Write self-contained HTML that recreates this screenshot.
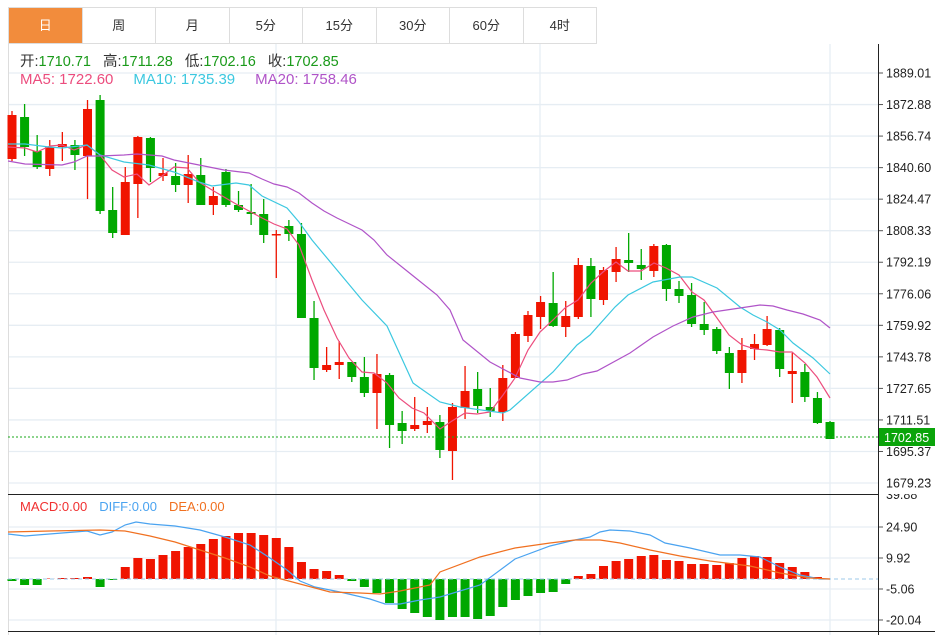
<!DOCTYPE html>
<html><head><meta charset="utf-8"><style>
body{margin:0;background:#fff;width:935px;height:635px;overflow:hidden;font-family:"Liberation Sans","Noto Sans CJK SC",sans-serif}
.tabs{position:absolute;left:8px;top:7px;height:37px;display:flex;border:1px solid #ddd;border-right:none;box-sizing:border-box}
.tabs div{width:73.5px;height:35px;line-height:35px;text-align:center;font-size:13px;color:#333;border-right:1px solid #ddd;box-sizing:border-box}
.tabs div.on{background:#f28c3c;color:#fff}
svg{position:absolute;left:0;top:0}
</style></head><body>
<div class="tabs"><div class="on">日</div><div>周</div><div>月</div><div>5分</div><div>15分</div><div>30分</div><div>60分</div><div>4时</div></div>
<svg id="s" width="935" height="635" xmlns="http://www.w3.org/2000/svg" font-family="Liberation Sans, Noto Sans CJK SC, sans-serif"></svg>
<script>
var s=document.getElementById('s'),h='';
var labs=['1889.01','1872.88','1856.74','1840.60','1824.47','1808.33','1792.19','1776.06','1759.92','1743.78','1727.65','1711.51','1695.37','1679.23'];
for(var k=0;k<14;k++){var y=73+k*31.54;h+='<line x1="8" y1="'+y+'" x2="878" y2="'+y+'" stroke="#e6edf3" stroke-width="1.3"/>';
h+='<line x1="878" y1="'+y+'" x2="883" y2="'+y+'" stroke="#555"/><text x="886" y="'+(y+4.5)+'" font-size="12.5" fill="#222">'+labs[k]+'</text>';}
h+='<text x="886" y="499" font-size="12.5" fill="#222">39.88</text><rect x="879" y="480" width="56" height="14" fill="#fff"/>';
h+='<text x="886" y="487.5" font-size="12.5" fill="#222">1679.23</text>';
[527,558,589,620].forEach(function(y,i){h+='<line x1="8" y1="'+y+'" x2="878" y2="'+y+'" stroke="#e6edf3" stroke-width="1.3"/><line x1="878" y1="'+y+'" x2="883" y2="'+y+'" stroke="#555"/><text x="886" y="'+(y+4.5)+'" font-size="12.5" fill="#222">'+['24.90','9.92','-5.06','-20.04'][i]+'</text>';});
[276,540,830].forEach(function(x){h+='<line x1="'+x+'" y1="44" x2="'+x+'" y2="635" stroke="#e6edf3" stroke-width="1.3"/>';});
h+='<line x1="8.5" y1="44" x2="8.5" y2="635" stroke="#ddd"/>';
var C=[[1,115,159,111,161],[0,117,147,104,156],[0,151,167,135,169],[1,147,169,140,176],[1,144,147,132,161],[0,145,155,140,170],[1,109,156,100,199],[0,100,211,95,214],[0,210,233,187,238],[1,182,235,167,235],[1,137,184,136,218],[0,138,168,137,182],[1,173,176,158,181],[0,176,185,163,192],[1,174,185,155,203],[0,175,205,158,205],[1,196,205,187,215],[0,172,205,169,207],[0,205,210,191,212],[0,212,214,184,225],[0,214,235,199,243],[1,234,235,230,278],[0,226,234,220,241],[0,234,318,223,318],[0,318,368,301,380],[1,365,370,347,372],[1,362,365,341,379],[0,362,377,362,382],[0,377,393,357,397],[1,374,393,354,429],[0,375,425,373,448],[0,423,431,411,444],[1,425,429,397,431],[1,421,425,407,433],[0,422,450,415,458],[1,407,451,403,480],[1,391,408,366,419],[0,389,406,372,413],[0,407,411,388,417],[1,378,412,365,421],[1,334,378,332,378],[1,315,336,311,342],[1,302,317,296,329],[0,303,326,272,327],[1,316,327,301,337],[1,265,317,258,319],[0,266,299,258,317],[1,270,300,267,305],[1,259,272,247,282],[0,260,263,233,272],[0,265,269,249,280],[1,246,271,244,277],[0,245,289,244,301],[0,289,296,281,303],[0,295,324,283,327],[0,324,330,302,335],[0,329,351,327,354],[0,353,373,347,389],[1,350,373,338,383],[1,344,349,334,360],[1,329,345,316,346],[0,330,369,328,377],[1,371,374,353,403],[0,372,397,364,402],[0,398,423,392,424],[0,422,439,421,439]];
function X(i){return 12+i*12.585;}
C.forEach(function(c,i){var x=X(i),col=c[0]?'#f01400':'#00a800';
h+='<line x1="'+x+'" y1="'+c[3]+'" x2="'+x+'" y2="'+c[4]+'" stroke="'+col+'" stroke-width="1.3"/>';
h+='<rect x="'+(x-4.5)+'" y="'+c[1]+'" width="9" height="'+Math.max(1.5,c[2]-c[1])+'" fill="'+col+'"/>';});
function pl(p,col){return '<polyline fill="none" stroke="'+col+'" stroke-width="1.2" points="'+p+'"/>';}
h+=pl('8,147 25,148 37,152 50,146 62,145 74,150 87,145 100,155 112,170 124,177 137,174 149,185 162,176 174,167 187,168 199,182 212,190 224,197 236,204 249,211 262,218 274,224 287,229 299,245 312,280 324,310 337,338 349,358 362,372 374,373 387,383 399,398 412,408 424,413 440,429 452,421 465,413 477,414 490,412 503,395 515,378 528,350 540,332 553,320 565,308 578,300 591,283 603,272 616,262 628,271 641,271 654,263 666,268 679,275 692,292 704,300 717,318 729,335 742,345 755,349 767,350 780,352 792,352 805,363 817,377 830,398','#ec4d7e');
h+=pl('8,144 25,144 49,147 62,148 87,145 100,155 124,162 149,165 174,172 199,182 212,186 236,183 249,185 262,196 287,208 299,222 312,240 337,270 362,300 387,326 413,383 420,388 440,402 460,407 503,413 510,410 553,372 577,345 590,335 615,307 628,295 653,282 680,277 692,277 717,288 740,307 753,315 767,322 780,330 793,343 813,358 830,374','#3cc8e0');
h+=pl('8,161 25,164 62,165 74,162 87,156 100,156 124,155 137,154 162,156 174,160 199,165 224,170 249,173 262,179 274,184 287,187 299,193 312,203 324,211 337,218 362,230 374,240 387,255 412,275 437,295 450,310 463,340 490,362 520,378 540,382 553,382 567,380 583,374 597,371 630,353 653,337 673,326 693,317 713,312 740,308 760,305 773,306 787,310 803,314 820,320 830,328','#b054c8');
h+='<line x1="8" y1="437" x2="878" y2="437" stroke="#1aa81a" stroke-dasharray="2,2"/>';
h+='<rect x="879" y="428" width="56" height="18" fill="#0aa40a"/><text x="884" y="442" font-size="12.5" fill="#fff">1702.85</text>';
var M=[581,585,585,578.5,578,578,577,587,580,567,558,559,555,551,547,544,539,536,533,533,535,538,547,562,569,571,575,581,587,593,603,609,613,617,620,617,617,619,616,607,600,596,593,592,584,576,574,566,561,559,556,555,560,561,564,564,565,563,558,556,557,563,567,572,577,579];
M.forEach(function(v,i){var x=X(i);var t=Math.min(v,579),b=Math.max(v,579);if(b-t<0.5)return;
h+='<rect x="'+(x-4.5)+'" y="'+t+'" width="9" height="'+(b-t)+'" fill="'+(v<579?'#f01400':'#00a800')+'"/>';});
h+='<line x1="8" y1="579" x2="878" y2="579" stroke="#9cc8e8" stroke-dasharray="4,3"/>';
h+=pl('8,534 25,536 37,535 87,531 100,535 112,532 125,525 136,522 150,524 175,526 200,530 225,537 250,545 270,558 287,570 300,581 315,587 340,592 370,599 385,604 400,604 420,600 440,597 480,585 515,559 550,546 575,540 590,537 600,532 610,530 630,531 650,535 665,543 690,548 720,555 740,555 760,557 780,567 800,575 820,579 830,579','#4aa3f0');
h+=pl('8,532 50,531 100,530 125,531 150,536 175,542 200,550 225,558 250,567 270,576 300,584 330,592 360,593 380,594 400,591 430,585 440,572 480,557 515,548 550,543 575,540 600,540 620,543 650,550 680,556 710,561 750,566 780,573 810,578 830,579','#f07020');
h+='<line x1="878.5" y1="44" x2="878.5" y2="635" stroke="#222"/>';
h+='<line x1="8" y1="494.5" x2="878" y2="494.5" stroke="#222"/><line x1="8" y1="631.5" x2="935" y2="631.5" stroke="#222"/>';
h+='<text x="20" y="66" font-size="14.5"><tspan fill="#333">开:</tspan><tspan fill="#1a9a1a">1710.71</tspan><tspan fill="#333" dx="12">高:</tspan><tspan fill="#1a9a1a">1711.28</tspan><tspan fill="#333" dx="12">低:</tspan><tspan fill="#1a9a1a">1702.16</tspan><tspan fill="#333" dx="12">收:</tspan><tspan fill="#1a9a1a">1702.85</tspan></text>';
h+='<text x="20" y="84" font-size="15"><tspan fill="#ec4d7e">MA5: 1722.60</tspan><tspan fill="#3cc8e0" dx="20">MA10: 1735.39</tspan><tspan fill="#b054c8" dx="20">MA20: 1758.46</tspan></text>';
h+='<text x="20" y="511" font-size="13"><tspan fill="#f03030">MACD:0.00</tspan><tspan fill="#4aa3f0" dx="12">DIFF:0.00</tspan><tspan fill="#f07020" dx="12">DEA:0.00</tspan></text>';
s.innerHTML=h;
</script>
</body></html>
